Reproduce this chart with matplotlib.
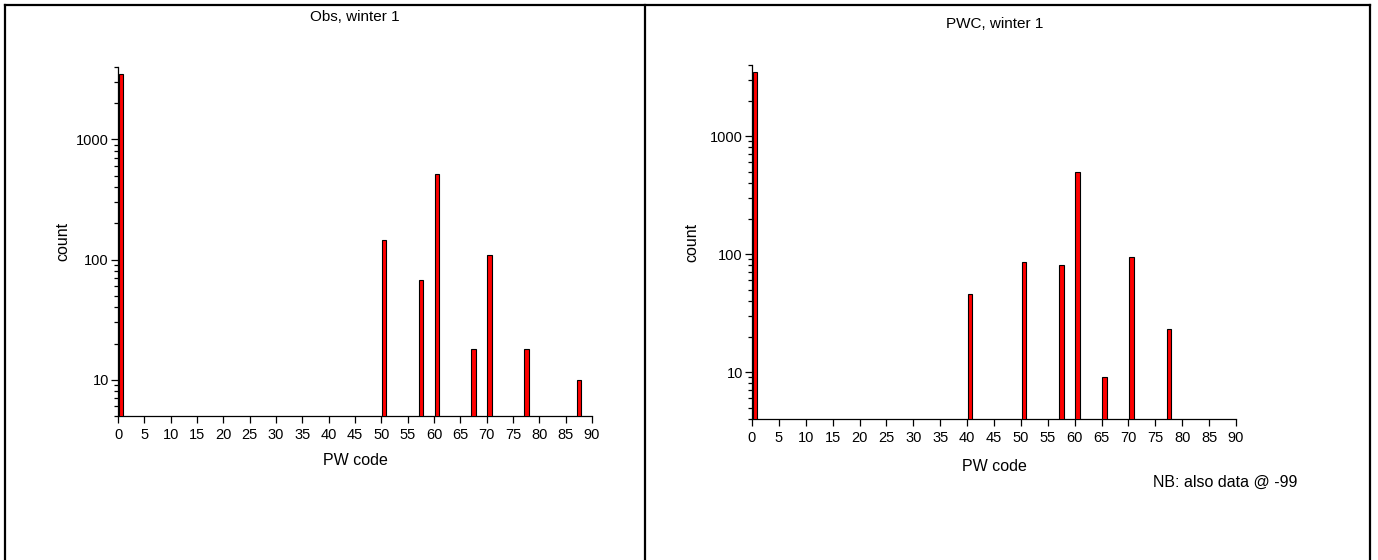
import matplotlib
matplotlib.use("Agg")
import matplotlib.pyplot as plt
from matplotlib.ticker import LogLocator, FixedLocator, NullFormatter, FixedFormatter
from matplotlib.lines import Line2D

plt.rcParams['font.family'] = ['Liberation Sans', 'DejaVu Sans']

# ---- data ----
codes_obs = [0, 50, 57, 60, 67, 70, 77, 87]
counts_obs = [3480, 145, 67, 518, 17, 109, 17, 9]
codes_pwc = [0, 40, 50, 57, 60, 65, 70, 77]
counts_pwc = [3460, 45, 84, 79, 492, 8, 93, 22]
x_ticks = list(range(0, 91, 5))
y_major = [10, 100, 1000]
titles = ["Obs, winter 1", "PWC, winter 1"]

W, H = 1378, 560
fig = plt.figure(figsize=(W / 100, H / 100), dpi=100)


def px_axes(x0, x1, ytop, ybot):
    return [x0 / W, 1 - ybot / H, (x1 - x0) / W, (ybot - ytop) / H]


def draw(ax, codes, counts, ylim):
    ax.bar([c + 0.12 for c in codes], counts, width=0.85, align='edge', bottom=1,
           color='#ff0000', edgecolor='black', linewidth=0.8, zorder=3)
    ax.set_yscale('log')
    ax.set_xlim(0, 90)
    ax.set_ylim(*ylim)
    ax.spines['top'].set_visible(False)
    ax.spines['right'].set_visible(False)
    for s in ('left', 'bottom'):
        ax.spines[s].set_linewidth(0.9)
    ax.xaxis.set_major_locator(FixedLocator(x_ticks))
    ax.set_xticklabels([str(t) for t in x_ticks])
    ax.yaxis.set_major_locator(FixedLocator(y_major))
    ax.yaxis.set_major_formatter(FixedFormatter([str(v) for v in y_major]))
    ax.yaxis.set_minor_locator(LogLocator(base=10, subs=range(2, 10), numticks=20))
    ax.yaxis.set_minor_formatter(NullFormatter())
    ax.tick_params(axis='both', which='major', direction='out', length=5, width=0.9,
                   labelsize=10.5)
    ax.tick_params(axis='x', which='major', pad=3.5)
    ax.tick_params(axis='y', which='major', pad=1.5)
    ax.tick_params(axis='y', which='minor', direction='out', length=3, width=0.9)
    ax.set_xlabel("PW code", fontsize=11.5)
    ax.set_ylabel("count", fontsize=11.5)


ax1 = fig.add_axes(px_axes(118, 592, 67, 416))
draw(ax1, codes_obs, counts_obs, (5, 4000))
ax1.xaxis.set_label_coords(0.5, -(453 - 416) / (416 - 67))
ax1.yaxis.set_label_coords(-(118 - 70) / (592 - 118), 0.5)

ax2 = fig.add_axes(px_axes(752, 1236, 65, 419))
draw(ax2, codes_pwc, counts_pwc, (4, 4000))
ax2.xaxis.set_label_coords(0.5, -(459 - 419) / (419 - 65))
ax2.yaxis.set_label_coords(-(752 - 699) / (1236 - 752), 0.5)

fig.text(355 / W, 1 - 17 / H, titles[0], ha='center', va='center', fontsize=11)
fig.text(995 / W, 1 - 24 / H, titles[1], ha='center', va='center', fontsize=11)
fig.text(1225 / W, 1 - 482 / H, "NB: also data @ -99", ha='center', va='center', fontsize=11.5)

# panel borders
lw = 1.6
for xs, ys in [((4.5 / W, 4.5 / W), (0, 1 - 5 / H)),
               ((4.5 / W, 1370 / W), (1 - 5 / H, 1 - 5 / H)),
               ((645 / W, 645 / W), (0, 1 - 5 / H)),
               ((1370 / W, 1370 / W), (0, 1 - 5 / H))]:
    fig.add_artist(Line2D(xs, ys, transform=fig.transFigure, color='black', linewidth=lw))

fig.savefig("out.png", dpi=100)
